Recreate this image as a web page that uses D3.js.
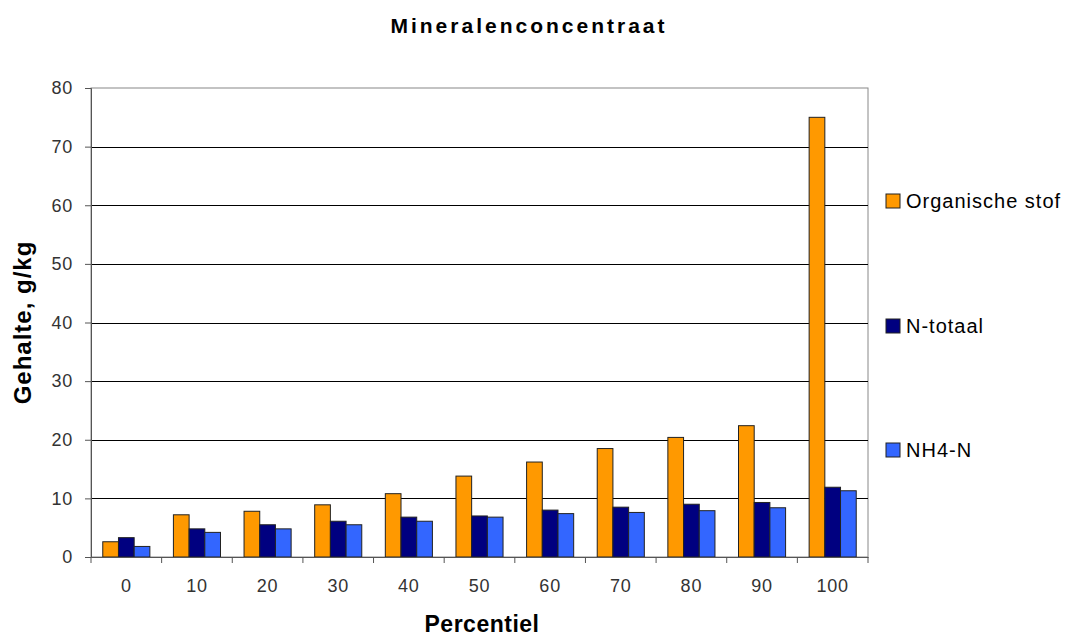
<!DOCTYPE html>
<html>
<head>
<meta charset="utf-8">
<script src="https://cdn.jsdelivr.net/npm/d3@7"></script>
<style>
  html, body { margin: 0; padding: 0; background: #fff; }
  svg { display: block; font-family: "Liberation Sans", Arial, sans-serif; }
</style>
</head>
<body>
<svg id="chart" width="1067" height="639"></svg>
<script>
// Percentile categories
const categories = ["0", "10", "20", "30", "40", "50", "60", "70", "80", "90", "100"];
// Series values, g/kg
const organischeStof = [2.6, 7.2, 7.8, 8.9, 10.8, 13.8, 16.2, 18.5, 20.4, 22.4, 75.0];
const nTotaal        = [3.3, 4.8, 5.5, 6.1, 6.8, 7.0, 8.0, 8.5, 9.0, 9.3, 11.9];
const nh4N           = [1.8, 4.2, 4.8, 5.5, 6.1, 6.8, 7.4, 7.6, 7.9, 8.4, 11.3];
const seriesNames = ["Organische stof", "N-totaal", "NH4-N"];
const seriesColors = ["#FF9900", "#000080", "#3366FF"];
const yTicks = [0, 10, 20, 30, 40, 50, 60, 70, 80];

const series = [organischeStof, nTotaal, nh4N];

const svg = d3.select("#chart");
const plot = { left: 91, right: 868, top: 88, bottom: 557 };

const x = d3.scaleBand().domain(categories).range([plot.left, plot.right]).paddingInner(0).paddingOuter(0);
// 150% gap width: group occupies 3 of 4.5 bar widths
const x1 = d3.scaleBand().domain(seriesNames).range([0, x.bandwidth()]).paddingOuter(0.75).paddingInner(0);
const y = d3.scaleLinear().domain([0, 80]).range([plot.bottom, plot.top]);

// Plot area border
svg.append("rect")
  .attr("x", plot.left).attr("y", plot.top)
  .attr("width", plot.right - plot.left).attr("height", plot.bottom - plot.top)
  .attr("fill", "none").attr("stroke", "#888").attr("stroke-width", 1);

// Horizontal gridlines
svg.append("g").selectAll("line")
  .data(yTicks.filter(d => d > 0 && d < 80))
  .join("line")
  .attr("x1", plot.left).attr("x2", plot.right)
  .attr("y1", d => Math.round(y(d)) + 0.5).attr("y2", d => Math.round(y(d)) + 0.5)
  .attr("stroke", "#000").attr("stroke-width", 1.2);

// Bars
const groups = svg.append("g").selectAll("g")
  .data(categories)
  .join("g")
  .attr("transform", d => `translate(${x(d)},0)`);

groups.selectAll("rect")
  .data((c, i) => seriesNames.map((s, j) => ({ s, v: series[j][i], color: seriesColors[j] })))
  .join("rect")
  .attr("x", d => x1(d.s))
  .attr("y", d => y(d.v))
  .attr("width", x1.bandwidth())
  .attr("height", d => y(0) - y(d.v))
  .attr("fill", d => d.color)
  .attr("stroke", "#222")
  .attr("stroke-width", 1);

// Y axis
const yAxis = svg.append("g")
  .attr("transform", `translate(${plot.left},0)`)
  .call(d3.axisLeft(y).tickValues(yTicks).tickSize(6).tickPadding(12).tickFormat(d3.format("d")));
yAxis.select(".domain").attr("stroke", "#555");
yAxis.selectAll(".tick line").attr("stroke", "#555");
yAxis.selectAll("text").attr("font-size", 18).attr("fill", "#333")
  .attr("letter-spacing", 0.8)
  .attr("font-family", "Liberation Sans, Arial, sans-serif");

// X axis: ticks on category boundaries
const xAxis = svg.append("g")
  .attr("transform", `translate(0,${plot.bottom})`)
  .call(d3.axisBottom(x).tickSize(0).tickPadding(22));
xAxis.select(".domain").attr("stroke", "#555");
xAxis.selectAll("text").attr("font-size", 18).attr("fill", "#333")
  .attr("letter-spacing", 0.8)
  .attr("font-family", "Liberation Sans, Arial, sans-serif");
svg.append("g").selectAll("line")
  .data(d3.range(categories.length + 1))
  .join("line")
  .attr("x1", i => plot.left + i * x.step()).attr("x2", i => plot.left + i * x.step())
  .attr("y1", plot.bottom).attr("y2", plot.bottom + 6)
  .attr("stroke", "#555");

// Title
svg.append("text")
  .attr("x", 529).attr("y", 33)
  .attr("text-anchor", "middle")
  .attr("font-size", 21).attr("font-weight", "bold")
  .attr("letter-spacing", 3)
  .text("Mineralenconcentraat");

// Axis titles
svg.append("text")
  .attr("x", 482).attr("y", 632)
  .attr("text-anchor", "middle")
  .attr("font-size", 23).attr("font-weight", "bold")
  .attr("letter-spacing", 0.5)
  .text("Percentiel");

svg.append("text")
  .attr("transform", `translate(31,${(plot.top + plot.bottom) / 2}) rotate(-90)`)
  .attr("text-anchor", "middle")
  .attr("font-size", 24).attr("font-weight", "bold")
  .attr("letter-spacing", 1)
  .text("Gehalte, g/kg");

// Legend
const legendY = [201, 326, 450];
const legend = svg.append("g").selectAll("g")
  .data(seriesNames)
  .join("g")
  .attr("transform", (d, i) => `translate(886,${legendY[i]})`);
legend.append("rect")
  .attr("x", 0).attr("y", -7).attr("width", 14).attr("height", 14)
  .attr("fill", (d, i) => seriesColors[i]).attr("stroke", "#222");
legend.append("text")
  .attr("x", 20).attr("y", 7)
  .attr("font-size", 20).attr("fill", "#000")
  .attr("letter-spacing", 1)
  .text(d => d);
</script>
</body>
</html>
